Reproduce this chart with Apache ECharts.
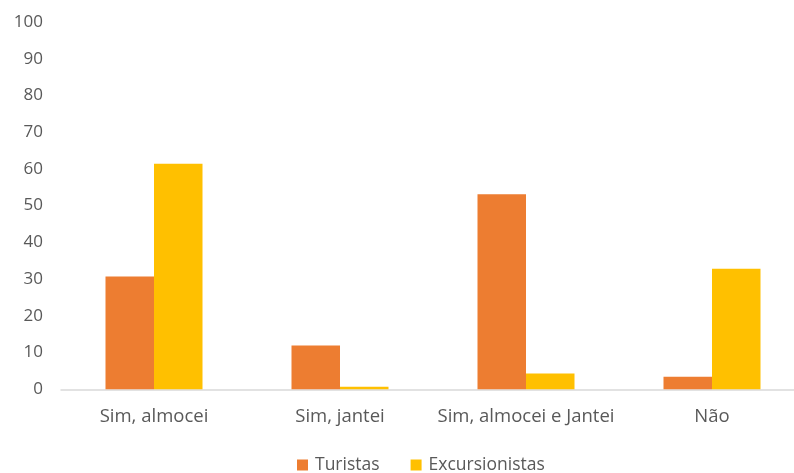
<!DOCTYPE html>
<html><head><meta charset="utf-8">
<script src="https://cdn.jsdelivr.net/npm/echarts@6/dist/echarts.min.js"></script>
<style>html,body{margin:0;padding:0;background:#fff}#c{width:794px;height:473px}</style>
</head><body><div id="c"></div>
<script>
const categories = ["Sim, almocei", "Sim, jantei", "Sim, almocei e Jantei", "Não"];
const turistas = [30.7, 11.9, 53.1, 3.4];
const excursionistas = [61.4, 0.7, 4.3, 32.8];
const seriesNames = ["Turistas", "Excursionistas"];
const yTicks = [0, 100, 10];

const chart = echarts.init(document.getElementById('c'), null, {renderer: 'canvas'});
const font = "'Open Sans', 'Liberation Sans', sans-serif";
chart.setOption({
  animation: false,
  backgroundColor: '#fff',
  grid: {left: 61, top: 22, width: 744, height: 367.3, containLabel: false, outerBoundsMode: 'none'},
  legend: {
    data: seriesNames, top: 451, left: 292, itemWidth: 11, itemHeight: 11, itemGap: 31,
    icon: 'rect',
    textStyle: {color: '#595959', fontSize: 17.5, fontFamily: font, padding: [0, 0, 0, 2]}
  },
  xAxis: {
    type: 'category', data: categories,
    axisLine: {lineStyle: {color: '#D9D9D9', width: 1.5}},
    axisTick: {show: false},
    axisLabel: {color: '#595959', fontSize: 18.5, fontFamily: font, margin: 18, interval: 0}
  },
  yAxis: {
    type: 'value', min: yTicks[0], max: yTicks[1], interval: yTicks[2],
    splitLine: {show: false}, axisLine: {show: false}, axisTick: {show: false},
    axisLabel: {color: '#595959', fontSize: 17, fontFamily: font, margin: 18}
  },
  series: [
    {name: seriesNames[0], type: 'bar', data: turistas, barWidth: 48.5, barGap: '0%', itemStyle: {color: '#ED7D31'}},
    {name: seriesNames[1], type: 'bar', data: excursionistas, barWidth: 48.5, barGap: '0%', itemStyle: {color: '#FFC000'}}
  ]
});
</script></body></html>
